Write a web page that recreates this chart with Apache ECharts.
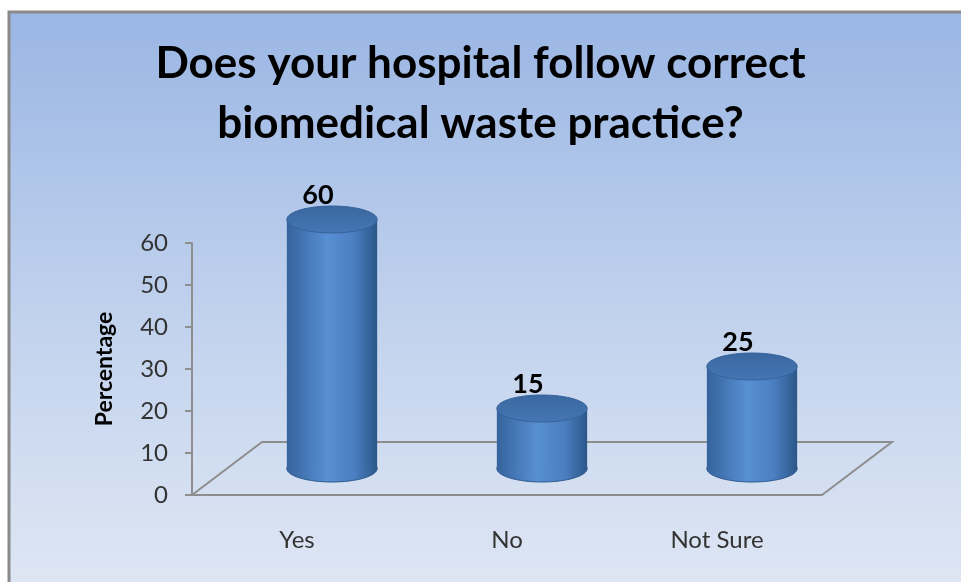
<!DOCTYPE html>
<html>
<head>
<meta charset="utf-8">
<script src="https://cdn.jsdelivr.net/npm/echarts@6/dist/echarts.min.js"></script>
<style>
html, body { margin: 0; padding: 0; }
#chart { width: 961px; height: 582px; }
</style>
</head>
<body>
<div id="chart"></div>
<script>
var categories = ['Yes', 'No', 'Not Sure'];
var values = [60, 15, 25];
var yTicks = [0, 10, 20, 30, 40, 50, 60];

// depth of the 3d floor, in pixels
var DEPTH_X = 70;
var DEPTH_Y = 53;

var chart = echarts.init(document.getElementById('chart'));

function renderFloor(params, api) {
    var first = api.coord([0, 0]);
    var last = api.coord([categories.length - 1, 0]);
    var band = api.size([1, 0])[0];
    var x0 = first[0] - band / 2;
    var x1 = last[0] + band / 2;
    var y0 = first[1];
    return {
        type: 'polyline',
        shape: {
            points: [[x0, y0], [x0 + DEPTH_X, y0 - DEPTH_Y], [x1 + DEPTH_X, y0 - DEPTH_Y], [x1, y0]]
        },
        style: { stroke: '#8e8e8e', lineWidth: 2, fill: null }
    };
}

function renderCylinder(params, api) {
    var base = api.coord([api.value(0), 0]);
    var top = api.coord([api.value(0), api.value(1)]);
    var band = api.size([1, 0])[0];
    var rx = band * 0.215;
    var ry = 13.5;
    var cx = base[0] + DEPTH_X / 2;
    var by = base[1] - DEPTH_Y / 2;
    var ty = top[1] - DEPTH_Y / 2 + 3;

    var bodyFill = new echarts.graphic.LinearGradient(0, 0, 1, 0, [
        { offset: 0, color: '#35639c' },
        { offset: 0.45, color: '#5890d4' },
        { offset: 0.75, color: '#4a7ec0' },
        { offset: 1, color: '#2b5688' }
    ]);
    var topFill = new echarts.graphic.LinearGradient(0, 0, 0, 1, [
        { offset: 0, color: '#3a679f' },
        { offset: 1, color: '#4577b5' }
    ]);
    return {
        type: 'group',
        children: [{
            type: 'ellipse',
            shape: { cx: cx, cy: by, rx: rx, ry: ry },
            style: { fill: bodyFill, stroke: '#2f5a8c', lineWidth: 1 }
        }, {
            type: 'rect',
            shape: { x: cx - rx, y: ty, width: rx * 2, height: by - ty },
            style: { fill: bodyFill }
        }, {
            type: 'ellipse',
            shape: { cx: cx, cy: ty, rx: rx, ry: ry },
            style: { fill: topFill, stroke: '#36639a', lineWidth: 1 }
        }, {
            type: 'text',
            style: {
                text: String(api.value(1)),
                x: cx - 14,
                y: ty - 24,
                align: 'center',
                verticalAlign: 'middle',
                font: 'bold 27px Lato',
                fill: '#000'
            }
        }]
    };
}

var option = {
    animation: false,
    graphic: [{
        type: 'rect',
        z: -10,
        shape: { x: 9, y: 12, width: 980, height: 600 },
        style: {
            fill: new echarts.graphic.LinearGradient(0, 0, 0, 1, [
                { offset: 0, color: '#9ab6e4' },
                { offset: 0.55, color: '#c4d4ee' },
                { offset: 1, color: '#e1e8f4' }
            ]),
            stroke: '#8a8a8a',
            lineWidth: 3
        }
    }],
    title: {
        text: 'Does your hospital follow correct\nbiomedical waste practice?',
        left: 'center',
        top: 34,
        textStyle: {
            fontFamily: 'Lato',
            fontWeight: 'bold',
            fontSize: 44,
            lineHeight: 60,
            color: '#000'
        },
        padding: 0
    },
    grid: {
        left: 192,
        right: 139,
        top: 243,
        bottom: 87
    },
    xAxis: {
        type: 'category',
        data: categories,
        axisLine: { lineStyle: { color: '#8e8e8e', width: 2 } },
        axisTick: { length: 8, lineStyle: { color: '#8e8e8e', width: 2 } },
        axisLabel: { margin: 33, fontFamily: 'Lato', fontSize: 24, color: '#333' }
    },
    yAxis: {
        type: 'value',
        min: yTicks[0],
        max: yTicks[yTicks.length - 1],
        interval: 10,
        name: 'Percentage',
        nameLocation: 'middle',
        nameGap: 76,
        nameRotate: 90,
        nameTextStyle: { fontFamily: 'Lato', fontWeight: 'bold', fontSize: 23, color: '#000' },
        axisLine: { show: true, lineStyle: { color: '#8e8e8e', width: 2 } },
        axisTick: { show: true, length: 7, lineStyle: { color: '#8e8e8e', width: 2 } },
        axisLabel: { margin: 24, fontFamily: 'Lato', fontSize: 24, color: '#333' },
        splitLine: { show: false }
    },
    series: [{
        type: 'custom',
        renderItem: renderFloor,
        data: [0],
        clip: false,
        silent: true,
        z: 1
    }, {
        type: 'custom',
        renderItem: renderCylinder,
        data: values.map(function (v, i) { return [i, v]; }),
        encode: { x: 0, y: 1 },
        clip: false,
        z: 2
    }]
};

chart.setOption(option);
</script>
</body>
</html>
